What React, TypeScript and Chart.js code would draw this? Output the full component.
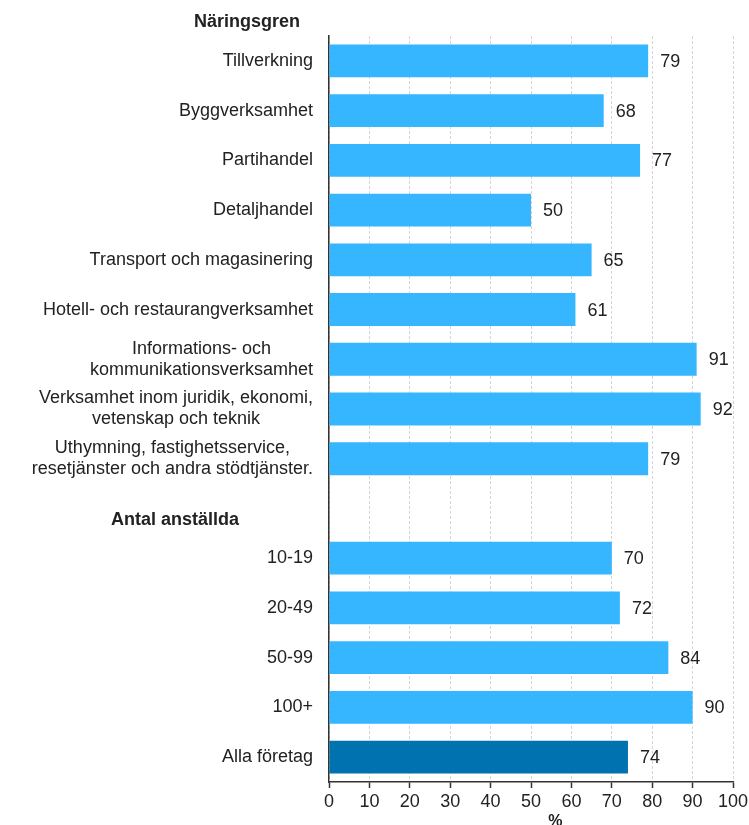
import React, { useEffect, useRef } from "react";
import { Chart, registerables } from "chart.js";

Chart.register(...registerables);

const categories: (string | string[])[] = [
  "Tillverkning",
  "Byggverksamhet",
  "Partihandel",
  "Detaljhandel",
  "Transport och magasinering",
  "Hotell- och restaurangverksamhet",
  ["Informations- och", "kommunikationsverksamhet"],
  ["Verksamhet inom juridik, ekonomi,", "vetenskap och teknik"],
  ["Uthymning, fastighetsservice,", "resetjänster och andra stödtjänster."],
  "",
  "10-19",
  "20-49",
  "50-99",
  "100+",
  "Alla företag",
];

const values: (number | null)[] = [79, 68, 77, 50, 65, 61, 91, 92, 79, null, 70, 72, 84, 90, 74];

const groupHeaders = ["Näringsgren", "Antal anställda"];
const headerRowIndex = [-1, 9];
const totalIndex = 14;
const xTickValues = [0, 10, 20, 30, 40, 50, 60, 70, 80, 90, 100];
const axisTitle = "%";

const FONT = '"Liberation Sans", Arial, sans-serif';
const TEXT = "#222222";
const LIGHT = "#35b6ff";
const DARK = "#0072b0";

export default function App() {
  const ref = useRef<HTMLCanvasElement | null>(null);

  useEffect(() => {
    if (!ref.current) return;
    const labelPlugin = {
      id: "customLabels",
      afterDraw(chart: any) {
        const { ctx, chartArea, scales } = chart;
        const y = scales.y;
        const x = scales.x;
        ctx.save();
        // category labels
        ctx.font = `18px ${FONT}`;
        ctx.fillStyle = TEXT;
        ctx.textBaseline = "middle";
        ctx.textAlign = "center";
        categories.forEach((lab, i) => {
          const lines = Array.isArray(lab) ? lab : [lab];
          if (!lines[0]) return;
          const maxW = Math.max(...lines.map((l) => ctx.measureText(l).width));
          const right = chartArea.left - 16;
          const cx = right - maxW / 2;
          const yc = y.getPixelForValue(i);
          lines.forEach((l, j) => {
            ctx.fillText(l, cx, yc + (j - (lines.length - 1) / 2) * 21);
          });
        });
        // group headers
        ctx.font = `bold 18px ${FONT}`;
        ctx.fillText(groupHeaders[0], chartArea.left - 82, chartArea.top - 14);
        ctx.fillText(groupHeaders[1], chartArea.left - 154, y.getPixelForValue(headerRowIndex[1]) + 12);
        // value labels
        ctx.font = `18px ${FONT}`;
        ctx.textAlign = "left";
        values.forEach((v, i) => {
          if (v === null) return;
          ctx.fillText(String(v), x.getPixelForValue(v) + 12, y.getPixelForValue(i) + 1);
        });
        // axis title
        ctx.font = `bold 16px ${FONT}`;
        ctx.textAlign = "center";
        ctx.textBaseline = "top";
        ctx.fillText(axisTitle, x.getPixelForValue(56), chartArea.bottom + 32);
        ctx.restore();
      },
    };

    const chart = new Chart(ref.current, {
      type: "bar",
      data: {
        labels: categories.map((c) => (Array.isArray(c) ? c.join(" ") : c)),
        datasets: [
          {
            data: values as any,
            backgroundColor: values.map((_, i) => (i === totalIndex ? DARK : LIGHT)),
            borderWidth: 0,
            categoryPercentage: 1,
            barPercentage: 0.66,
          },
        ],
      },
      options: {
        indexAxis: "y",
        animation: false,
        responsive: false,
        layout: { padding: { top: 36, right: 16, left: 0, bottom: 0 } },
        plugins: {
          legend: { display: false },
          tooltip: { enabled: false },
          title: { display: false },
        },
        scales: {
          x: {
            type: "linear",
            position: "bottom",
            min: 0,
            max: 100,
            afterBuildTicks: (scale: any) => {
              scale.ticks = xTickValues.map((v) => ({ value: v }));
            },
            afterFit: (scale: any) => {
              scale.height = 43;
              scale.paddingRight = 0;
              scale.paddingLeft = 0;
            },
            ticks: {
              font: { family: FONT, size: 18 },
              color: TEXT,
              padding: 3,
              maxRotation: 0,
            },
            grid: {
              color: "#d4d4d4",
              lineWidth: 1,
              tickColor: "#333333",
              tickLength: 6,
              tickBorderDash: [],
              tickWidth: 1.5,
            },
            border: { display: true, color: "#333333", width: 1.5, dash: [3, 2] },
          },
          y: {
            type: "category",
            afterFit: (scale: any) => {
              scale.width = 329;
            },
            ticks: { display: false },
            grid: { display: false },
            border: { display: true, color: "#333333", width: 1.5 },
          },
        },
      } as any,
      plugins: [labelPlugin],
    });
    return () => chart.destroy();
  }, []);

  return (
    <div style={{ position: "absolute", left: 0, top: 0, width: 749, height: 825, background: "#fff" }}>
      <canvas ref={ref} width={749} height={825} style={{ display: "block", width: 749, height: 825 }} />
    </div>
  );
}
